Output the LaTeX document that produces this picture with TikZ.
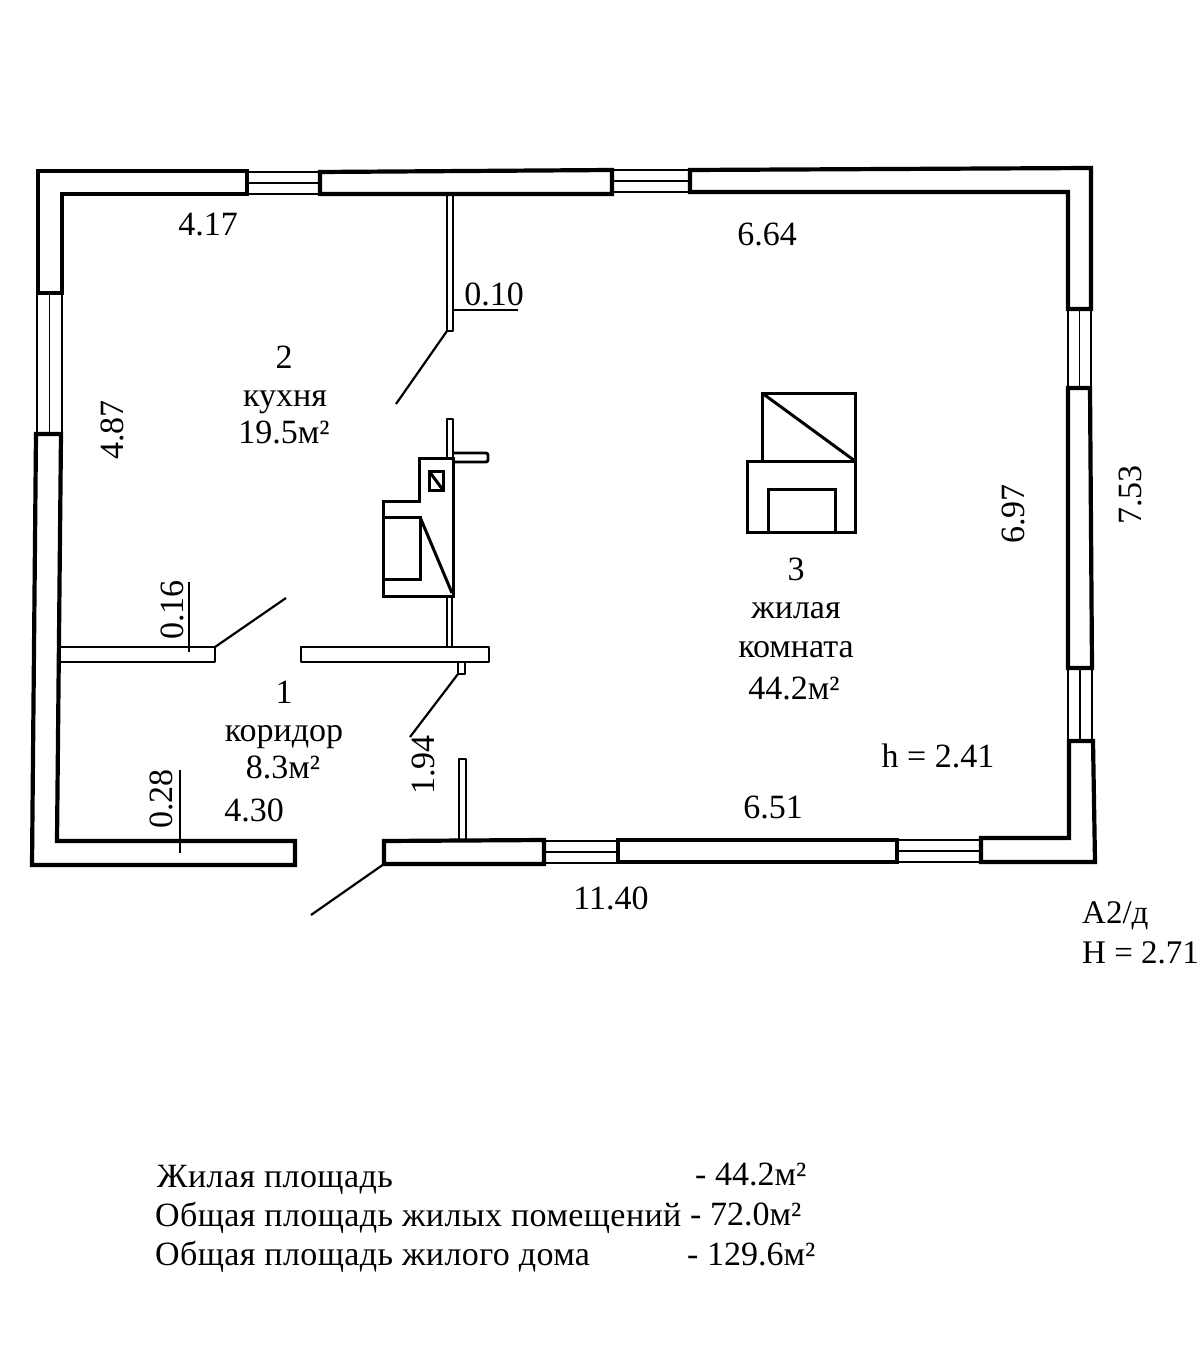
\documentclass[tikz,border=0pt]{standalone}
\usepackage{fontspec}
\setmainfont{Liberation Serif}
\newfontfamily\legendfont[LetterSpace=1.2]{Liberation Serif}

\begin{document}
\begin{tikzpicture}[
    x=1pt, y=-1pt,
    wall/.style={draw, line width=4.2pt, line join=miter},
    partition/.style={draw, line width=2.8pt, line join=round},
    glass/.style={draw, line width=1.6pt},
    stove/.style={draw, line width=3pt, line join=miter},
    leaf/.style={draw, line width=2.2pt},
    tick/.style={draw, line width=1.4pt},
    every node/.style={inner sep=0pt, text height=23pt, text depth=0pt, font=\fontsize{34}{36}\selectfont},
    label/.style={anchor=center},
    legend/.style={anchor=west},
    legendname/.style={anchor=west, font=\fontsize{34}{36}\legendfont},
    blocktext/.style={anchor=west, font=\fontsize{33}{36}\selectfont}
]
\useasboundingbox (0,0) rectangle (1200,1348);

% outer walls
\path[wall] (38,171) -- (247,171) -- (247,194) -- (62,194) -- (62,293) -- (38,293) -- cycle;
\path[wall] (320,172) -- (612,170) -- (612,194) -- (320,194) -- cycle;
\path[wall] (690,170) -- (1091,168) -- (1091,309) -- (1068,309) -- (1068,192) -- (690,192) -- cycle;
\path[wall] (1068,388) -- (1090,388) -- (1092,668) -- (1068,668) -- cycle;
\path[wall] (1069,741) -- (1093,741) -- (1095,862) -- (981,862) -- (981,838) -- (1069,838) -- cycle;
\path[wall] (618,840) -- (897,840) -- (897,862) -- (618,862) -- cycle;
\path[wall] (384,841) -- (544,840) -- (544,864) -- (384,864) -- cycle;
\path[wall] (36,434) -- (61,434) -- (57,841) -- (295,841) -- (295,865) -- (32,865) -- cycle;

% windows
\foreach \xa/\xb/\ya/\yb in {247/320/172/194, 612/690/170/192, 544/618/841/863, 897/981/840/862} {
    \path[glass] (\xa,\ya) -- (\xb,\ya);
    \path[glass] (\xa,{(\ya+\yb)/2}) -- (\xb,{(\ya+\yb)/2});
    \path[glass] (\xa,\yb) -- (\xb,\yb);
}
\foreach \xa/\xb/\ya/\yb in {37/62/293/434, 1068/1091/309/388, 1068/1092/668/741} {
    \path[glass] (\xa,\ya) -- (\xa,\yb);
    \path[glass] ({(\xa+\xb)/2},\ya) -- ({(\xa+\xb)/2},\yb);
    \path[glass] (\xb,\ya) -- (\xb,\yb);
}

% partitions
\path[partition] (447,194) -- (447,331) -- (453,331) -- (453,194);
\path[partition] (60,647) -- (215,647) -- (215,662) -- (60,662);
\path[partition] (301,647) -- (489,647) -- (489,662) -- (301,662) -- cycle;
\path[partition] (447,596) -- (447,647);
\path[partition] (452,596) -- (452,647);
\path[partition] (459,840) -- (459,759) -- (466,759) -- (466,840);
\path[partition] (458,662) -- (458,674) -- (465,674) -- (465,662);

% stove
\path[partition] (447,458) -- (447,419) -- (453,419) -- (453,458);
\path[partition, rounded corners=2pt] (453,453) -- (488,453) -- (488,462) -- (453,462);
\path[stove] (419,501) -- (419,458) -- (453,458) -- (453,596) -- (383,596) -- (383,501) -- cycle;
\path[stove] (383,517) -- (420,517) -- (420,579) -- (383,579);
\path[stove] (420,517) -- (452,593);
\path[stove] (429,471) rectangle (443,490);
\path[stove] (429,471) -- (443,490);

% fireplace
\path[stove] (762,461) -- (762,393) -- (855,393) -- (855,532) -- (747,532) -- (747,461) -- (855,461);
\path[stove] (762,393) -- (855,461);
\path[stove] (768,532) -- (768,489) -- (835,489) -- (835,532);

% door leaves
\path[leaf] (447,331) -- (396,404);
\path[leaf] (215,647) -- (286,598);
\path[leaf] (458,674) -- (410,737);
\path[leaf] (384,864) -- (311,915);

% leaders
\path[tick] (452,310) -- (518,310);
\path[tick] (189,582) -- (189,652);
\path[tick] (180,770) -- (180,853);

% room labels
\node[label] (roomtwonum) at (284,357) {2};
\node[label] (roomtwoname) at (285,395) {кухня};
\node[label] (roomtwoarea) at (284,432) {19.5м²};
\node[label] (roomonenum) at (284,692) {1};
\node[label] (roomonename) at (284,730) {коридор};
\node[label] (roomonearea) at (283,767) {8.3м²};
\node[label] (roomthreenum) at (796,569) {3};
\node[label] (roomthreename) at (796,607) {жилая};
\node[label] (roomthreenameb) at (796,646) {комната};
\node[label] (roomthreearea) at (794,688) {44.2м²};
\node[label] (innerheight) at (938,756) {h = 2.41};

% dimensions
\node[label] (dimtopa) at (208,224) {4.17};
\node[label] (dimtopb) at (767,234) {6.64};
\node[label] (dimpart) at (494,294) {0.10};
\node[label, rotate=90] (dimleft) at (112,430) {4.87};
\node[label, rotate=90] (dimwallb) at (172,610) {0.16};
\node[label, rotate=90] (dimwallc) at (161,799) {0.28};
\node[label, rotate=90] (dimcorr) at (423,765) {1.94};
\node[label] (dimcorrb) at (254,810) {4.30};
\node[label] (dimbota) at (773,807) {6.51};
\node[label] (dimbotb) at (611,898) {11.40};
\node[label, rotate=90] (dimrighta) at (1013,514) {6.97};
\node[label, rotate=90] (dimrightb) at (1130,495) {7.53};

% block mark
\node[blocktext] (blockmark) at (1082,912) {А2/д};
\node[blocktext] (outerheight) at (1082,952) {H = 2.71};

% areas
\node[legendname] (livname) at (157,1176) {Жилая площадь};
\node[legend] (livval) at (695,1174) {- 44.2м²};
\node[legendname] (roomsname) at (155,1215) {Общая площадь жилых помещений};
\node[legend] (roomsval) at (690,1214) {- 72.0м²};
\node[legendname] (housename) at (155,1254) {Общая площадь жилого дома};
\node[legend] (houseval) at (687,1254) {- 129.6м²};
\end{tikzpicture}
\end{document}
